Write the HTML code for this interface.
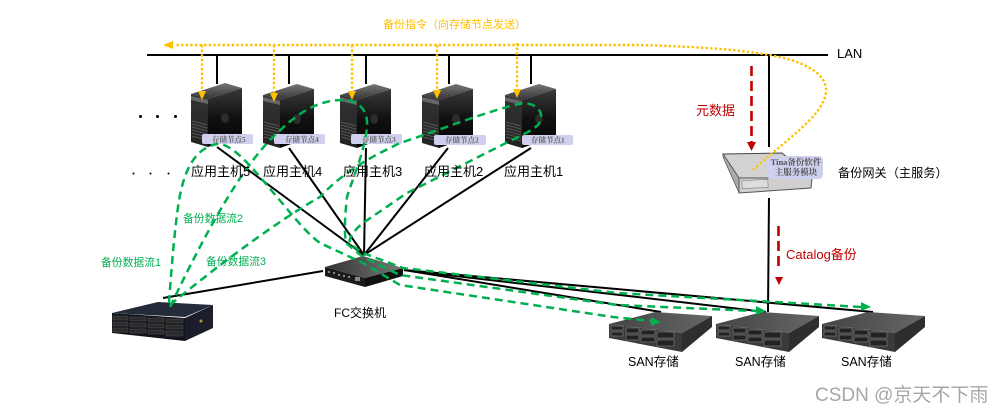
<!DOCTYPE html>
<html><head><meta charset="utf-8">
<style>
html,body{margin:0;padding:0;background:#fff}
svg{display:block}
text{font-family:"Liberation Sans","Noto Sans CJK SC",sans-serif}
text.s{font-family:"Liberation Serif","Noto Serif CJK SC",serif;font-weight:bold}
</style></head>
<body>
<svg width="1002" height="413" viewBox="0 0 1002 413" xmlns="http://www.w3.org/2000/svg">
<defs>
<linearGradient id="srvTop" x1="0" y1="0" x2="0" y2="1"><stop offset="0" stop-color="#777"/><stop offset="1" stop-color="#333"/></linearGradient>
<linearGradient id="srvSide" x1="0" y1="0" x2="0" y2="1"><stop offset="0" stop-color="#3a3a3a"/><stop offset=".5" stop-color="#111"/><stop offset="1" stop-color="#050505"/></linearGradient>
<linearGradient id="srvFront" x1="0" y1="0" x2="0" y2="1"><stop offset="0" stop-color="#333"/><stop offset="1" stop-color="#222"/></linearGradient>
<linearGradient id="swTop" x1="0" y1="0" x2="1" y2="0"><stop offset="0" stop-color="#333"/><stop offset="1" stop-color="#777"/></linearGradient>
<linearGradient id="sanTop" x1="0" y1="0" x2="1" y2="0"><stop offset="0" stop-color="#444"/><stop offset="1" stop-color="#666"/></linearGradient>
<g id="server">
<polygon points="0,11 34,0 51,5 17,16" fill="url(#srvTop)"/>
<polygon points="0,11 17,16 17,64 0,59" fill="url(#srvFront)"/>
<polygon points="17,16 51,5 51,52 17,64" fill="url(#srvSide)"/>
<polygon points="0,13 17,17 17,21 0,17" fill="#666"/>
<g stroke="#555" stroke-width="1"><path d="M1,38 16,42M1,41 16,45M1,44 16,48M1,47 16,51M1,50 16,54M1,53 16,57"/></g>
<ellipse cx="34" cy="35" rx="4" ry="5" fill="#2c2c2c"/>
</g>
<g id="san">
<polygon points="0,12 46,0 103,4 73,21" fill="url(#sanTop)"/>
<polygon points="0,12 73,21 73,40 0,26" fill="#3a3a3a"/>
<polygon points="73,21 103,4 103,15 73,40" fill="#2e2e2e"/>
<g fill="#222" stroke="#888" stroke-width=".6">
<rect x="2" y="14" width="12" height="4"/><rect x="2" y="20" width="12" height="4"/>
<rect x="17" y="16" width="13" height="5"/><rect x="17" y="23" width="13" height="5"/>
<rect x="32" y="18" width="14" height="5"/><rect x="32" y="25" width="14" height="5"/>
<rect x="48" y="20" width="17" height="6"/><rect x="48" y="28" width="17" height="6"/>
</g>
</g>
</defs>

<!-- black connectors -->
<g stroke="#000" stroke-width="2" fill="none">
<line x1="147" y1="55" x2="828" y2="55"/>
<line x1="217" y1="55" x2="217" y2="84"/>
<line x1="289" y1="55" x2="289" y2="84"/>
<line x1="366" y1="55" x2="366" y2="84"/>
<line x1="449" y1="55" x2="449" y2="84"/>
<line x1="531" y1="55" x2="531" y2="84"/>
<line x1="769" y1="55" x2="769" y2="147"/>
<line x1="769" y1="198" x2="768" y2="312"/>
<line x1="217" y1="147" x2="364" y2="255"/>
<line x1="289" y1="148" x2="364" y2="255"/>
<line x1="366" y1="148" x2="364" y2="255"/>
<line x1="448" y1="148" x2="364" y2="255"/>
<line x1="531" y1="148" x2="364" y2="255"/>
<line x1="323" y1="271" x2="163" y2="298"/>
<line x1="404" y1="270" x2="661" y2="312"/>
<line x1="404" y1="270" x2="766" y2="312"/>
<line x1="404" y1="270" x2="873" y2="312"/>
</g>

<!-- servers -->
<use href="#server" x="191" y="83"/>
<use href="#server" x="263" y="84"/>
<use href="#server" x="340" y="84"/>
<use href="#server" x="422" y="84"/>
<use href="#server" x="505" y="84"/>
<g fill="#d0d0ee">
<rect x="202" y="134" width="51" height="10" rx="2"/>
<rect x="274" y="134" width="51" height="10" rx="2"/>
<rect x="351" y="134" width="51" height="10" rx="2"/>
<rect x="434" y="135" width="52" height="10" rx="2"/>
<rect x="522" y="135" width="51" height="10" rx="2"/>
</g>
<g font-size="7.5" fill="#666">
<text class="s" x="212" y="142">存储节点5</text>
<text class="s" x="285" y="142">存储节点4</text>
<text class="s" x="362" y="142">存储节点3</text>
<text class="s" x="445" y="142.500">存储节点2</text>
<text class="s" x="531" y="142.500">存储节点1</text>
</g>

<!-- left storage -->
<polygon points="112,313 158,302 213,305 185,317" fill="#232a3a"/>
<polygon points="112,313 185,318 185,341 112,333" fill="#10131b"/>
<polygon points="185,318 213,305 213,328 185,341" fill="#1b1e2a"/>
<g fill="#2b2b2b" stroke="#555" stroke-width=".5">
<rect x="113" y="316" width="15" height="4"/><rect x="113" y="322" width="15" height="4"/><rect x="113" y="328" width="15" height="4"/>
<rect x="130" y="317" width="16" height="4"/><rect x="130" y="323" width="16" height="4"/><rect x="130" y="329" width="16" height="4"/>
<rect x="148" y="318" width="16" height="4"/><rect x="148" y="324" width="16" height="4"/><rect x="148" y="330" width="16" height="4"/>
<rect x="166" y="319" width="17" height="4"/><rect x="166" y="325" width="17" height="4"/><rect x="166" y="331" width="17" height="5"/>
</g>
<circle cx="201" cy="321" r="1.500" fill="#b09a20"/>

<!-- switch -->
<polygon points="325,267 363,256 403,268 365,278" fill="url(#swTop)"/>
<polygon points="325,267 365,278 365,287 325,276" fill="#1c1c1c"/>
<polygon points="365,278 403,268 403,276 365,287" fill="#111"/>
<g fill="#888"><rect x="328" y="271" width="2" height="2"/><rect x="333" y="272" width="2" height="2"/><rect x="338" y="274" width="2" height="2"/><rect x="343" y="275" width="2" height="2"/><rect x="348" y="276" width="2" height="2"/><rect x="355" y="277" width="5" height="4"/></g>

<!-- SAN -->
<use href="#san" x="609" y="312"/>
<use href="#san" x="716" y="312"/>
<use href="#san" x="822" y="312"/>

<!-- gateway -->
<polygon points="723,154 782,153 812,178 739,178" fill="#d2d2d2" stroke="#444" stroke-width="1"/>
<polygon points="723,154 739,178 739,193 723,157" fill="#aaa" stroke="#444" stroke-width=".6"/>
<polygon points="739,178 812,178 811,188 739,193" fill="#cfcfcf" stroke="#555" stroke-width="1"/>
<rect x="742" y="180" width="26" height="8" fill="#ddd" stroke="#888" stroke-width=".7" transform="rotate(-3 755 184)"/>
<rect x="767" y="156" width="56" height="23" rx="4" fill="#cfcfee"/>
<g font-size="8.500" fill="#555" text-anchor="middle">
<text class="s" x="796" y="165">Tina备份软件</text>
<text class="s" x="796" y="175">主服务模块</text>
</g>

<!-- yellow dotted -->
<g stroke="#ffc000" stroke-width="2.400" fill="none" stroke-dasharray="2.400 2.200">
<path d="M753,170 C785,140 826,115 826,90 C826,72 800,60 769,55 C735,49 700,47 640,45 L175,45"/>
<line x1="202" y1="45" x2="202" y2="92"/>
<line x1="274" y1="45" x2="274" y2="94"/>
<line x1="352" y1="45" x2="352" y2="92"/>
<line x1="437" y1="45" x2="437" y2="92"/>
<line x1="517" y1="43" x2="517" y2="90"/>
</g>
<g fill="#ffc000">
<polygon points="163,45 173,41 173,49"/>
<polygon points="198,91 206,91 202,100"/>
<polygon points="270,93 278,93 274,102"/>
<polygon points="348,91 356,91 352,100"/>
<polygon points="433,90 441,90 437,99"/>
<polygon points="513,89 521,89 517,98"/>
</g>

<!-- red dashed -->
<g stroke="#c00000" stroke-width="2.600" fill="none" stroke-dasharray="10 5">
<line x1="751.500" y1="66" x2="751.500" y2="143"/>
<line x1="778.500" y1="226" x2="778.500" y2="271"/>
</g>
<polygon points="747,142 756,142 751.500,151" fill="#c00000"/>
<polygon points="775,277 783,277 779,285" fill="#c00000"/>

<!-- green dashed -->
<g stroke="#00b050" stroke-width="2.500" fill="none" stroke-dasharray="8 5">
<path d="M169,303 C172,260 176,215 180,195 C185,170 195,148 217,144 C232,143 250,165 277,197 C290,212 305,232 320,243 L363,263 L400,285 L613,317 L652,321"/>
<path d="M170,307 C195,255 232,180 270,140 C295,115 315,100 343,100 C360,100 368,112 367,125 C366,150 350,185 347,197 C345,215 344,230 346,243 L363,257 L400,275 L617,305 L756,311"/>
<path d="M170,305 C200,280 270,225 320,197 C345,170 375,155 400,143 C440,130 490,110 523,103 C540,104 545,115 538,125 C530,132 518,137 506,143 L407,193 L363,223 C352,232 348,240 350,244 L363,253 L403,268 L617,293 L862,307"/>
</g>
<g fill="#00b050">
<polygon points="871,307 861,302 861,311"/>
<polygon points="766,311 756,306 756,315"/>
<polygon points="661,322 651,317 651,326"/>
</g>

<!-- labels -->
<text x="383" y="28" font-size="11" fill="#ffc000">备份指令（向存储节点发送）</text>
<text x="837" y="58" font-size="13" fill="#000">LAN</text>
<text x="696" y="115" font-size="13" fill="#c00000">元数据</text>
<text x="786" y="259" font-size="13" fill="#c00000">Catalog备份</text>
<text x="838" y="177" font-size="12.200" fill="#000">备份网关（主服务）</text>
<g font-size="13" fill="#000">
<text x="191" y="176">应用主机5</text>
<text x="263" y="176">应用主机4</text>
<text x="343" y="176">应用主机3</text>
<text x="424" y="176">应用主机2</text>
<text x="504" y="176">应用主机1</text>
</g>
<g fill="#000">
<circle cx="140.500" cy="116.500" r="1.500"/><circle cx="157.500" cy="116.500" r="1.500"/><circle cx="175.500" cy="116.500" r="1.500"/>
<circle cx="133.500" cy="173.500" r="1"/><circle cx="150.500" cy="173.500" r="1"/><circle cx="168.500" cy="173.500" r="1"/>
</g>
<g font-size="10.800" fill="#00b050">
<text x="101" y="266">备份数据流1</text>
<text x="183" y="222">备份数据流2</text>
<text x="206" y="265">备份数据流3</text>
</g>
<text x="334" y="317" font-size="12" fill="#000">FC交换机</text>
<g font-size="12.500" fill="#000">
<text x="628" y="366">SAN存储</text>
<text x="735" y="366">SAN存储</text>
<text x="841" y="366">SAN存储</text>
</g>
<text x="815" y="401" font-size="19" fill="#a6a6a6">CSDN @京天不下雨</text>
</svg>
</body></html>
